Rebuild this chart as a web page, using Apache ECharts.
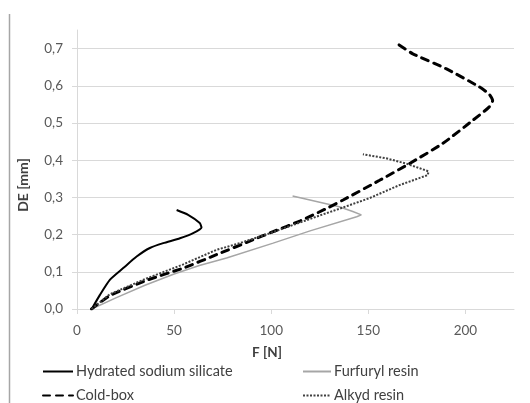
<!DOCTYPE html>
<html>
<head>
<meta charset="utf-8">
<script src="https://cdn.jsdelivr.net/npm/echarts@6/dist/echarts.min.js"></script>
<style>
html,body{margin:0;padding:0;background:#fff;}
#c{width:530px;height:403px;}
</style>
</head>
<body>
<div id="c"></div>
<script>
// Data: [F (N), DE (mm)]
const seriesNames = ['Hydrated sodium silicate', 'Furfuryl resin', 'Cold-box', 'Alkyd resin'];
const hydrated = [[7.6,0],[11.8,0.038],[17,0.079],[23.8,0.11],[30.7,0.141],[37.5,0.164],[44.4,0.177],[53,0.19],[59.8,0.204],[64.1,0.219],[63.2,0.231],[57.2,0.253],[51.3,0.266]];
const furfuryl = [[7.5,0],[20,0.03],[35,0.064],[50,0.094],[63,0.117],[77,0.137],[101,0.177],[120,0.21],[144,0.248],[146.4,0.253],[142,0.262],[135,0.275],[111,0.304]];
const coldBox = [[7.5,0],[17,0.036],[35.8,0.077],[54.7,0.11],[71.8,0.146],[90.6,0.186],[101,0.208],[115,0.237],[128.4,0.27],[137,0.293],[155.8,0.346],[171.2,0.391],[188.3,0.445],[204,0.508],[212,0.542],[214,0.56],[212.3,0.577],[207.2,0.597],[190,0.646],[172.9,0.686],[164.4,0.715]];
const alkyd = [[7.5,0],[17,0.04],[35.8,0.082],[54.7,0.12],[71.8,0.159],[83.8,0.177],[100,0.205],[121.5,0.245],[137,0.273],[150.6,0.298],[166,0.333],[180.6,0.36],[181,0.37],[169.5,0.391],[159.2,0.405],[147.2,0.416]];
const xTicks = [0, 50, 100, 150, 200];
const yTicks = [0, 0.1, 0.2, 0.3, 0.4, 0.5, 0.6, 0.7];
const xTitle = 'F [N]';
const yTitle = 'DE [mm]';

const FONT = 'Lato';
const chart = echarts.init(document.getElementById('c'), null, {renderer: 'canvas'});
function mkLegend(name, left, top, w) {
  return {
    orient: 'horizontal', left: left, top: top, padding: 0, itemWidth: w, itemHeight: 12,
    itemStyle: {opacity: 0},
    data: [name],
    textStyle: {color: '#404040', fontSize: 14.5, fontFamily: FONT, padding: [0, 0, 0, -2]}
  };
}
chart.setOption({
  backgroundColor: '#fff',
  animation: false,
  textStyle: {fontFamily: FONT},
  grid: {left: 77, right: 16, top: 30, bottom: 94, containLabel: false},
  xAxis: {
    type: 'value', min: 0, max: 225, interval: 50,
    axisLine: {show: true, lineStyle: {color: '#d9d9d9', width: 1}},
    axisTick: {show: true, length: 5, lineStyle: {color: '#d9d9d9'}},
    splitLine: {show: false},
    axisLabel: {
      margin: 15, color: '#595959', fontSize: 13.5, fontFamily: FONT,
      showMaxLabel: false,
      formatter: v => xTicks.includes(v) ? String(v) : ''
    }
  },
  yAxis: {
    type: 'value', min: 0, max: 0.75, interval: 0.1,
    axisLine: {show: true, lineStyle: {color: '#d9d9d9', width: 1}},
    axisTick: {show: true, length: 5, lineStyle: {color: '#d9d9d9'}},
    splitLine: {show: true, showMaxLine: false, lineStyle: {color: '#d9d9d9', width: 1}},
    axisLabel: {
      margin: 14, color: '#595959', fontSize: 13.5, fontFamily: FONT,
      showMaxLabel: false,
      formatter: v => {
        const t = yTicks.find(k => Math.abs(k - v) < 1e-6);
        return t === undefined ? '' : t.toFixed(1).replace('.', ',');
      }
    }
  },
  graphic: [
    {type: 'line', shape: {x1: 9.5, y1: 14, x2: 9.5, y2: 403}, style: {stroke: '#a6a6a6', lineWidth: 1.5}},
    {type: 'text', x: 267, y: 353, style: {text: xTitle, fill: '#404040', font: 'bold 13.5px ' + FONT, textAlign: 'center', textVerticalAlign: 'middle'}},
    {type: 'text', x: 23, y: 185, rotation: Math.PI / 2, style: {text: yTitle, fill: '#404040', font: 'bold 14px ' + FONT, textAlign: 'center', textVerticalAlign: 'middle'}}
  ],
  legend: [
    mkLegend(seriesNames[0], 42, 364, 30),
    mkLegend(seriesNames[2], 42, 388, 30),
    mkLegend(seriesNames[1], 302, 364, 28),
    mkLegend(seriesNames[3], 302, 388, 28)
  ],
  series: [
    {name: seriesNames[0], type: 'line', data: hydrated, symbol: 'none', smooth: 0.2,
     lineStyle: {color: '#000', width: 2}, itemStyle: {color: '#000'}},
    {name: seriesNames[1], type: 'line', data: furfuryl, symbol: 'none',
     lineStyle: {color: '#a6a6a6', width: 1.5}, itemStyle: {color: '#a6a6a6'}},
    {name: seriesNames[2], type: 'line', data: coldBox, symbol: 'none', smooth: 0.2,
     lineStyle: {color: '#000', width: 3, type: [7, 6], cap: 'round'}, itemStyle: {color: '#000'}},
    {name: seriesNames[3], type: 'line', data: alkyd, symbol: 'none',
     lineStyle: {color: '#404040', width: 2, type: [2, 1.5]}, itemStyle: {color: '#404040'}}
  ]
});
</script>
</body>
</html>
